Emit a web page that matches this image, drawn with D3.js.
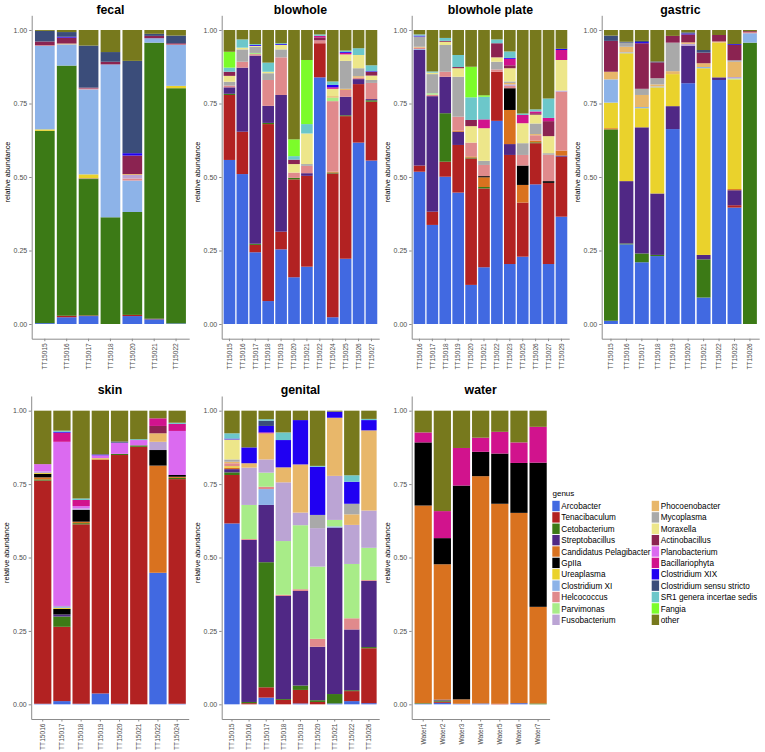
<!DOCTYPE html>
<html><head><meta charset="utf-8">
<script src="https://cdn.jsdelivr.net/npm/d3@7"></script>
<style>body{margin:0;background:#fff} svg text{font-family:"Liberation Sans",Arial,sans-serif}</style>
</head><body><svg id="c" width="765" height="752"></svg>
<script>
const genera = ["Arcobacter","Tenacibaculum","Cetobacterium","Streptobacillus","Candidatus Pelagibacter","GpIIa","Ureaplasma","Clostridium XI","Helcococcus","Parvimonas","Fusobacterium","Phocoenobacter","Mycoplasma","Moraxella","Actinobacillus","Planobacterium","Bacillariophyta","Clostridium XIX","Clostridium sensu stricto","SR1 genera incertae sedis","Fangia","other"];
const codes = ["Arc","Ten","Cet","Str","Can","Gp","Ure","CXI","Hel","Par","Fus","Pho","Myc","Mor","Act","Pla","Bac","CXIX","CSS","SR1","Fan","oth"];
const colors = ["#4169E1","#B22222","#3C7A16","#502885","#D9721F","#000000","#EAD22C","#8DB3E8","#E08A8C","#A8EC88","#BBA4D4","#E8B76A","#A9A9A9","#EDE68A","#8B2351","#DB6AF0","#D1138D","#2000F2","#3B4D7A","#6CC7CA","#7CFC2A","#77791D"];
const yTicks = [0, 0.25, 0.5, 0.75, 1];
const yTickLabels = ["0.00","0.25","0.50","0.75","1.00"];

const fecalSamples = ["TT15015","TT15016","TT15017","TT15018","TT15020","TT15021","TT15022"];
const fecalValues = [
 {Arc:.003,Cet:.654,Ure:.005,CXI:.284,Hel:.002,Act:.013,CSS:.036,oth:.003},
 {Arc:.023,Ten:.005,Cet:.851,CXI:.072,Pho:.003,Act:.020,CXIX:.003,CSS:.016,oth:.007},
 {Arc:.027,Ten:.002,Cet:.464,Str:.002,Ure:.014,CXI:.289,Hel:.003,Act:.003,CSS:.143,oth:.053},
 {Cet:.363,CXI:.520,Act:.009,CSS:.033,oth:.075},
 {Arc:.027,Ten:.004,Cet:.350,CXI:.107,Hel:.007,Fus:.012,Pho:.003,Act:.063,CXIX:.008,CSS:.314,oth:.105},
 {Arc:.016,Ten:.002,Cet:.939,CXI:.015,Act:.008,CSS:.007,oth:.013},
 {Arc:.002,Cet:.800,Ure:.008,CXI:.139,Hel:.002,Act:.004,CSS:.026,oth:.019}
];

const blowholeSamples = ["TT15015","TT15016","TT15017","TT15018","TT15019","TT15020","TT15021","TT15022","TT15024","TT15025","TT15026","TT15027"];
const blowholeValues = [
 {Arc:.558,Ten:.221,Cet:.004,Str:.022,Hel:.006,Myc:.013,Mor:.020,Act:.014,SR1:.014,Fan:.054,oth:.074},
 {Arc:.510,Ten:.144,Str:.218,Hel:.020,Myc:.042,Mor:.006,SR1:.028,oth:.032},
 {Arc:.244,Ten:.025,Cet:.004,Str:.640,Hel:.005,Par:.004,Myc:.021,Mor:.003,CXIX:.003,SR1:.003,oth:.048},
 {Arc:.078,Ten:.602,Cet:.004,Str:.058,Hel:.088,Myc:.023,Mor:.005,SR1:.031,oth:.111},
 {Arc:.254,Ten:.060,Str:.465,Hel:.128,Myc:.027,Mor:.015,CXIX:.003,SR1:.003,oth:.045},
 {Arc:.159,Ten:.333,Cet:.005,Hel:.018,Mor:.029,Act:.015,SR1:.012,Fan:.057,oth:.372},
 {Arc:.195,Ten:.309,Str:.009,Hel:.025,Myc:.006,Mor:.104,SR1:.032,Fan:.218,oth:.102},
 {Arc:.839,Ten:.116,Hel:.010,Act:.010,Bac:.005,SR1:.005,oth:.015},
 {Arc:.023,Ten:.489,Cet:.003,Can:.003,Hel:.240,Par:.012,Pho:.005,Mor:.025,Bac:.005,CXIX:.008,SR1:.012,oth:.175},
 {Arc:.222,Ten:.485,Cet:.003,Str:.063,Hel:.023,Pho:.004,Myc:.095,Mor:.022,Bac:.005,CXIX:.003,SR1:.005,oth:.070},
 {Arc:.617,Ten:.199,Str:.017,Hel:.005,Pho:.005,Myc:.027,Mor:.045,SR1:.023,oth:.062},
 {Arc:.556,Ten:.200,Cet:.005,Str:.004,Hel:.055,Myc:.010,Mor:.015,Act:.013,CXIX:.002,SR1:.020,oth:.120}
];

const plateSamples = ["TT15016","TT15017","TT15018","TT15019","TT15020","TT15021","TT15022","TT15023","TT15025","TT15026","TT15027","TT15029"];
const plateValues = [
 {Arc:.518,Ten:.021,Str:.393,CXI:.003,Hel:.005,Pho:.003,Myc:.035,CXIX:.003,SR1:.004,oth:.015},
 {Arc:.337,Ten:.045,Str:.393,Hel:.005,Par:.005,Myc:.065,Mor:.005,SR1:.004,oth:.141},
 {Arc:.501,Ten:.051,Cet:.165,Str:.124,Hel:.017,Myc:.091,Mor:.011,Act:.003,SR1:.010,oth:.027},
 {Arc:.447,Ten:.162,Str:.045,Can:.004,Hel:.047,Myc:.136,Mor:.029,Act:.004,SR1:.041,oth:.085},
 {Arc:.133,Ten:.430,Cet:.003,Can:.004,Hel:.047,Mor:.056,Act:.021,SR1:.077,Fan:.104,oth:.125},
 {Arc:.193,Ten:.268,Cet:.005,Can:.033,Gp:.004,Hel:.038,Myc:.014,Mor:.111,Bac:.030,SR1:.077,Fan:.005,oth:.222},
 {Arc:.691,Ten:.167,Hel:.008,Myc:.026,Mor:.015,Act:.048,SR1:.013,oth:.032},
 {Arc:.204,Ten:.371,Str:.037,Can:.116,Gp:.074,Hel:.008,Fus:.005,Pho:.005,Myc:.005,Mor:.045,Act:.010,Bac:.022,CXIX:.003,SR1:.022,oth:.073},
 {Arc:.229,Ten:.184,Can:.060,Gp:.066,Hel:.036,Myc:.040,Mor:.068,Bac:.028,SR1:.005,oth:.284},
 {Arc:.475,Ten:.140,Cet:.003,Can:.006,Hel:.018,Pho:.004,Myc:.036,Mor:.030,Act:.005,Bac:.006,SR1:.007,oth:.270},
 {Arc:.204,Ten:.276,Gp:.006,Hel:.090,Myc:.005,Mor:.058,Act:.051,Bac:.011,SR1:.066,oth:.233},
 {Arc:.365,Ten:.204,Str:.004,Can:.017,Hel:.200,Fus:.004,Mor:.104,Bac:.034,CXIX:.004,oth:.064}
];

const gastricSamples = ["TT15015","TT15016","TT15017","TT15018","TT15019","TT15020","TT15021","TT15022","TT15023","TT15026"];
const gastricValues = [
 {Arc:.011,Cet:.651,Can:.004,Ure:.087,CXI:.079,Pho:.026,Act:.105,CSS:.018,oth:.019},
 {Arc:.271,Cet:.003,Str:.212,Ure:.435,CXI:.003,Pho:.019,Myc:.014,CSS:.003,oth:.040},
 {Arc:.210,Cet:.030,Str:.429,Ure:.065,CXI:.004,Pho:.041,Myc:.021,Act:.155,CXIX:.004,CSS:.004,oth:.037},
 {Arc:.231,Cet:.004,Str:.209,Ure:.361,CXI:.003,Pho:.007,Myc:.021,Act:.054,CSS:.003,oth:.107},
 {Arc:.663,Str:.078,Ure:.109,Pho:.010,Myc:.097,Act:.023,oth:.020},
 {Arc:.819,Str:.128,Fus:.006,Pho:.005,Act:.027,CXIX:.003,CSS:.004,oth:.008},
 {Arc:.090,Cet:.130,Str:.015,Ure:.635,CXI:.004,Pho:.013,Act:.036,CSS:.009,oth:.068},
 {Arc:.830,Str:.009,Ure:.118,Pho:.004,Act:.022,oth:.017},
 {Arc:.396,Ten:.008,Str:.051,Can:.004,Ure:.373,Par:.003,Fus:.005,Pho:.052,Myc:.005,Act:.052,CXIX:.003,oth:.048},
 {Cet:.957,CXI:.032,Hel:.004,Act:.003,oth:.004}
];

const skinSamples = ["TT15016","TT15017","TT15018","TT15019","TT15020","TT15021","TT15022","TT15024"];
const skinValues = [
 {Arc:.002,Ten:.760,Cet:.004,Can:.007,Gp:.012,Ure:.003,Fus:.005,Pla:.025,oth:.182},
 {Arc:.011,Ten:.253,Cet:.035,Str:.007,Gp:.019,Ure:.003,CXI:.003,Fus:.004,Pla:.559,Bac:.031,CXIX:.003,SR1:.004,oth:.068},
 {Arc:.002,Ten:.611,Cet:.004,Can:.005,Gp:.040,Fus:.005,Pla:.008,Bac:.021,SR1:.005,oth:.299},
 {Arc:.037,Ten:.797,Ure:.004,Pla:.010,CXIX:.003,oth:.149},
 {Arc:.002,Ten:.847,Cet:.004,Pla:.038,CSS:.004,oth:.105},
 {Ten:.877,Cet:.005,Pla:.018,SR1:.003,oth:.097},
 {Arc:.448,Can:.365,Gp:.053,Fus:.028,Pho:.029,Act:.025,Bac:.026,oth:.026},
 {Arc:.002,Ten:.765,Cet:.004,Can:.004,Gp:.006,Pla:.150,Bac:.024,SR1:.004,oth:.041}
];

const genitalSamples = ["TT15015","TT15016","TT15017","TT15018","TT15019","TT15020","TT15021","TT15022","TT15026"];
const genitalValues = [
 {Arc:.616,Ten:.165,Cet:.009,Str:.011,Can:.005,Ure:.005,Hel:.010,Pho:.005,Myc:.008,Mor:.068,CXIX:.003,SR1:.018,oth:.077},
 {Ten:.004,Cet:.004,Str:.552,Hel:.003,Par:.116,Fus:.127,Pho:.015,CXIX:.054,oth:.125},
 {Arc:.023,Ten:.035,Cet:.426,Str:.195,CXI:.054,Hel:.008,Par:.048,Fus:.045,Pho:.089,Bac:.003,CXIX:.022,CSS:.018,SR1:.005,oth:.029},
 {Ten:.015,Cet:.003,Str:.351,Hel:.004,Par:.183,Fus:.200,Pho:.051,CXIX:.093,SR1:.026,oth:.074},
 {Arc:.003,Ten:.046,Cet:.015,Str:.322,Hel:.006,Par:.218,Fus:.043,Pho:.164,CXIX:.151,oth:.032},
 {Ten:.008,Cet:.006,Str:.182,Hel:.027,Par:.246,Fus:.131,Myc:.045,CXIX:.164,SR1:.003,oth:.188},
 {Arc:.003,Cet:.032,Str:.567,CXI:.004,Par:.022,Fus:.150,Pho:.198,CXIX:.021,oth:.003},
 {Arc:.011,Ten:.034,Cet:.003,Str:.207,Hel:.038,Par:.185,Fus:.133,Pho:.036,Myc:.036,CXIX:.075,SR1:.022,oth:.220},
 {Arc:.004,Ten:.187,Cet:.004,Str:.225,Hel:.003,Par:.110,Fus:.127,Pho:.273,CXIX:.035,SR1:.004,oth:.028}
];

const waterSamples = ["Water1","Water2","Water3","Water4","Water5","Water6","Water7"];
const waterValues = [
 {Arc:.002,Cet:.002,Can:.673,Gp:.215,Bac:.034,oth:.074},
 {Arc:.005,Ten:.004,Cet:.004,Str:.003,Can:.461,Gp:.089,Bac:.092,oth:.342},
 {Arc:.002,Can:.015,Gp:.728,Bac:.128,oth:.127},
 {Arc:.003,Can:.774,Gp:.083,Bac:.048,oth:.092},
 {Ten:.002,Can:.681,Gp:.171,Bac:.074,oth:.072},
 {Arc:.004,Can:.648,Gp:.170,Bac:.070,oth:.108},
 {Cet:.003,Can:.329,Gp:.491,Bac:.122,oth:.055}
];

const panels = [
 {title:"fecal", samples:fecalSamples, values:fecalValues, x:31.7, y:15.3, w:157.5, h:323.4},
 {title:"blowhole", samples:blowholeSamples, values:blowholeValues, x:221.7, y:15.3, w:157.5, h:323.4},
 {title:"blowhole plate", samples:plateSamples, values:plateValues, x:411.7, y:15.3, w:157.5, h:323.4},
 {title:"gastric", samples:gastricSamples, values:gastricValues, x:601.7, y:15.3, w:157.5, h:323.4},
 {title:"skin", samples:skinSamples, values:skinValues, x:31.2, y:396, w:157.5, h:323},
 {title:"genital", samples:genitalSamples, values:genitalValues, x:221.7, y:396, w:157.5, h:323},
 {title:"water", samples:waterSamples, values:waterValues, x:411.7, y:396, w:137.9, h:323}
];

const svg = d3.select("#c");
const color = d3.scaleOrdinal().domain(codes).range(colors);
const stack = d3.stack().keys(codes).value((d, k) => d[k] || 0);

panels.forEach(p => {
  const g = svg.append("g");
  const x = d3.scaleBand().domain(p.samples).range([p.x, p.x + p.w]).paddingInner(0.1).paddingOuter(0.15);
  const y = d3.scaleLinear().domain([-0.05, 1.05]).range([p.y + p.h, p.y]);
  const data = p.values.map((v, i) => Object.assign({sample: p.samples[i]}, v));
  const series = stack(data);
  g.selectAll("g.s").data(series).join("g").attr("fill", d => color(d.key))
    .selectAll("rect").data(d => d.filter(e => e[1] - e[0] > 0)).join("rect")
    .attr("x", d => x(d.data.sample))
    .attr("width", x.bandwidth())
    .attr("y", d => y(d[1]))
    .attr("height", d => y(d[0]) - y(d[1]));

  const ya = g.append("g").attr("transform", `translate(${p.x},0)`)
    .call(d3.axisLeft(y).tickValues(yTicks).tickFormat((d, i) => yTickLabels[i]).tickSize(2.5).tickSizeOuter(0).tickPadding(2));
  ya.select(".domain").attr("stroke", "#8c8c8c").attr("stroke-width", 1);
  ya.selectAll(".tick line").attr("stroke", "#8c8c8c");
  ya.selectAll(".tick text").attr("fill", "#4d4d4d").style("font-size", "7px").style("font-family", "'Liberation Sans',Arial,sans-serif");

  const xa = g.append("g").attr("transform", `translate(0,${p.y + p.h})`)
    .call(d3.axisBottom(x).tickSize(2.5).tickSizeOuter(0));
  xa.select(".domain").attr("stroke", "#8c8c8c").attr("stroke-width", 1);
  xa.selectAll(".tick line").attr("stroke", "#8c8c8c");
  xa.selectAll(".tick text").attr("fill", "#4d4d4d").style("font-size", "6.6px")
    .style("font-family", "'Liberation Sans',Arial,sans-serif")
    .attr("transform", "rotate(-90)").attr("x", -4.5).attr("y", 0).attr("dy", "0.35em")
    .attr("text-anchor", "end");

  g.append("text").attr("transform", `translate(${p.x - 24.5},${p.y + p.h * 0.5 - 5}) rotate(-90)`)
    .attr("text-anchor", "middle").attr("dy", "0.35em").style("font-size", "7.2px").attr("fill", "#000")
    .text("relative abundance");

  g.append("text").attr("x", p.x + p.w / 2).attr("y", p.y - 1.8)
    .attr("text-anchor", "middle").style("font-size", "12.3px").style("font-weight", "bold").attr("fill", "#000")
    .text(p.title);
});

// legend
const lg = svg.append("g");
lg.append("text").attr("x", 552.5).attr("y", 496).style("font-size", "8px").text("genus");
genera.forEach((name, i) => {
  const col = Math.floor(i / 11), row = i % 11;
  const kx = col === 0 ? 552.3 : 651.7;
  const ky = 500.8 + row * 11.38;
  lg.append("rect").attr("x", kx).attr("y", ky).attr("width", 7.4).attr("height", 10.4).attr("fill", colors[i]);
  lg.append("text").attr("x", kx + 9).attr("y", ky + 8.3).style("font-size", "8.2px").attr("fill", "#000").text(name);
});
</script></body></html>
